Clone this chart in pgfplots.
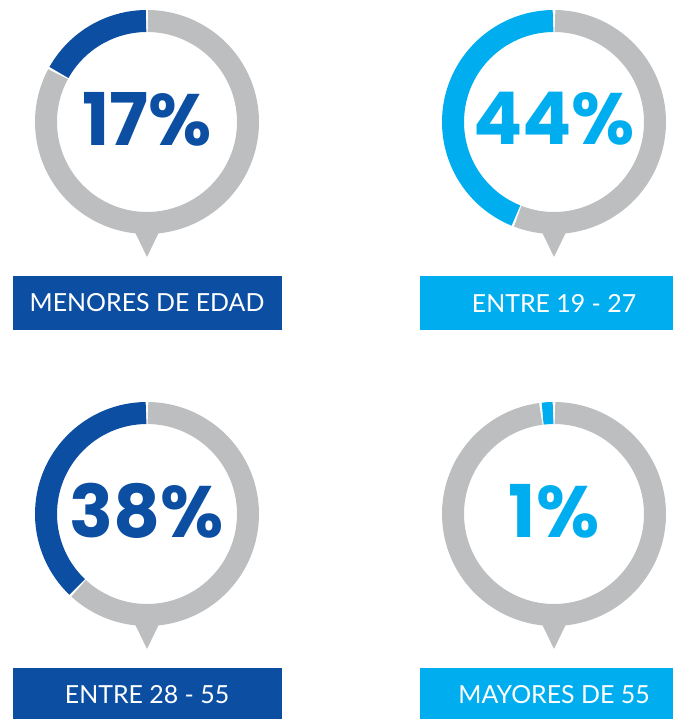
\documentclass[border=0pt]{standalone}
\usepackage{pgfplots}
\usepackage{pgfplotstable}
\pgfplotsset{compat=1.18}
\usepackage{fontspec}
\setmainfont{Lato}
\newfontfamily\numfont{Poppins}
\definecolor{dk}{HTML}{0B4EA2}
\definecolor{lt}{HTML}{00AEEF}
\definecolor{ring}{HTML}{BCBEC0}

% donut centres in px (y from the bottom), share in %, caption
\pgfplotstableread[col sep=comma]{
cx,cy,v,lab
147,597,17,MENORES DE EDAD
147,205,38,ENTRE 28 - 55
}\dark
\pgfplotstableread[col sep=comma]{
cx,cy,v,lab
554,597,44,ENTRE 19 - 27
554,205,1,MAYORES DE 55
}\light

% ring of row #2 of table #1 in colour #3
\newcommand\ring[3]{%
  \pgfplotstablegetelem{#2}{cx}\of#1\let\cx\pgfplotsretval
  \pgfplotstablegetelem{#2}{cy}\of#1\let\cy\pgfplotsretval
  \pgfplotstablegetelem{#2}{v}\of#1\let\v\pgfplotsretval
  \pgfmathsetmacro\ea{90+max(3.6*\v,7)}%
  \edef\tmp{%
    \noexpand\draw[ring, line width=22bp]
      ([shift={(\ea+0.55:101bp)}]axis cs:\cx,\cy)
      arc[start angle=\ea+0.55, end angle=449.45, radius=101bp];
    \noexpand\draw[#3, line width=22bp]
      ([shift={(90.55:101bp)}]axis cs:\cx,\cy)
      arc[start angle=90.55, end angle=\ea-0.55, radius=101bp];
    \noexpand\fill[ring] ([shift={(-15bp,-104bp)}]axis cs:\cx,\cy)
      -- ([shift={(15bp,-104bp)}]axis cs:\cx,\cy)
      -- ([shift={(0bp,-135bp)}]axis cs:\cx,\cy) -- cycle;
  }\tmp
}

\pgfplotsset{
  donut/.style={
    only marks, mark=none, point meta=explicit,
    nodes near coords={\pgfmathprintnumber{\pgfplotspointmeta}\%},
    /pgf/number format/assume math mode=true,
    every node near coord/.style={anchor=center, yshift=3bp, text=#1, inner sep=0pt,
      font=\numfont\bfseries\fontsize{73}{80}\selectfont},
  },
  caption/.style={
    only marks, mark=none, point meta=explicit symbolic,
    nodes near coords,
    every node near coord/.style={anchor=center, yshift=-181bp, fill=#1, text=white,
      minimum width=269bp, minimum height=54bp, inner sep=0pt,
      font=\fontsize{25}{30}\selectfont},
  },
}

\begin{document}
\begin{tikzpicture}
\begin{axis}[
    hide axis, scale only axis, clip=false,
    width=673bp, height=719bp,
    xmin=0, xmax=673, ymin=0, ymax=719,
  ]
  \coordinate (ll) at (axis cs:0,0);
  \coordinate (ur) at (axis cs:673,719);
  \pgfplotsinvokeforeach{0,1}{\ring{\dark}{#1}{dk}\ring{\light}{#1}{lt}}
  \addplot[donut=dk] table[x=cx, y=cy, meta=v] {\dark};
  \addplot[donut=lt] table[x=cx, y=cy, meta=v] {\light};
  \addplot[caption=dk] table[x=cx, y=cy, meta=lab] {\dark};
  \addplot[caption=lt] table[x=cx, y=cy, meta=lab] {\light};
\end{axis}
\pgfresetboundingbox
\useasboundingbox (ll) rectangle (ur);
\end{tikzpicture}
\end{document}
